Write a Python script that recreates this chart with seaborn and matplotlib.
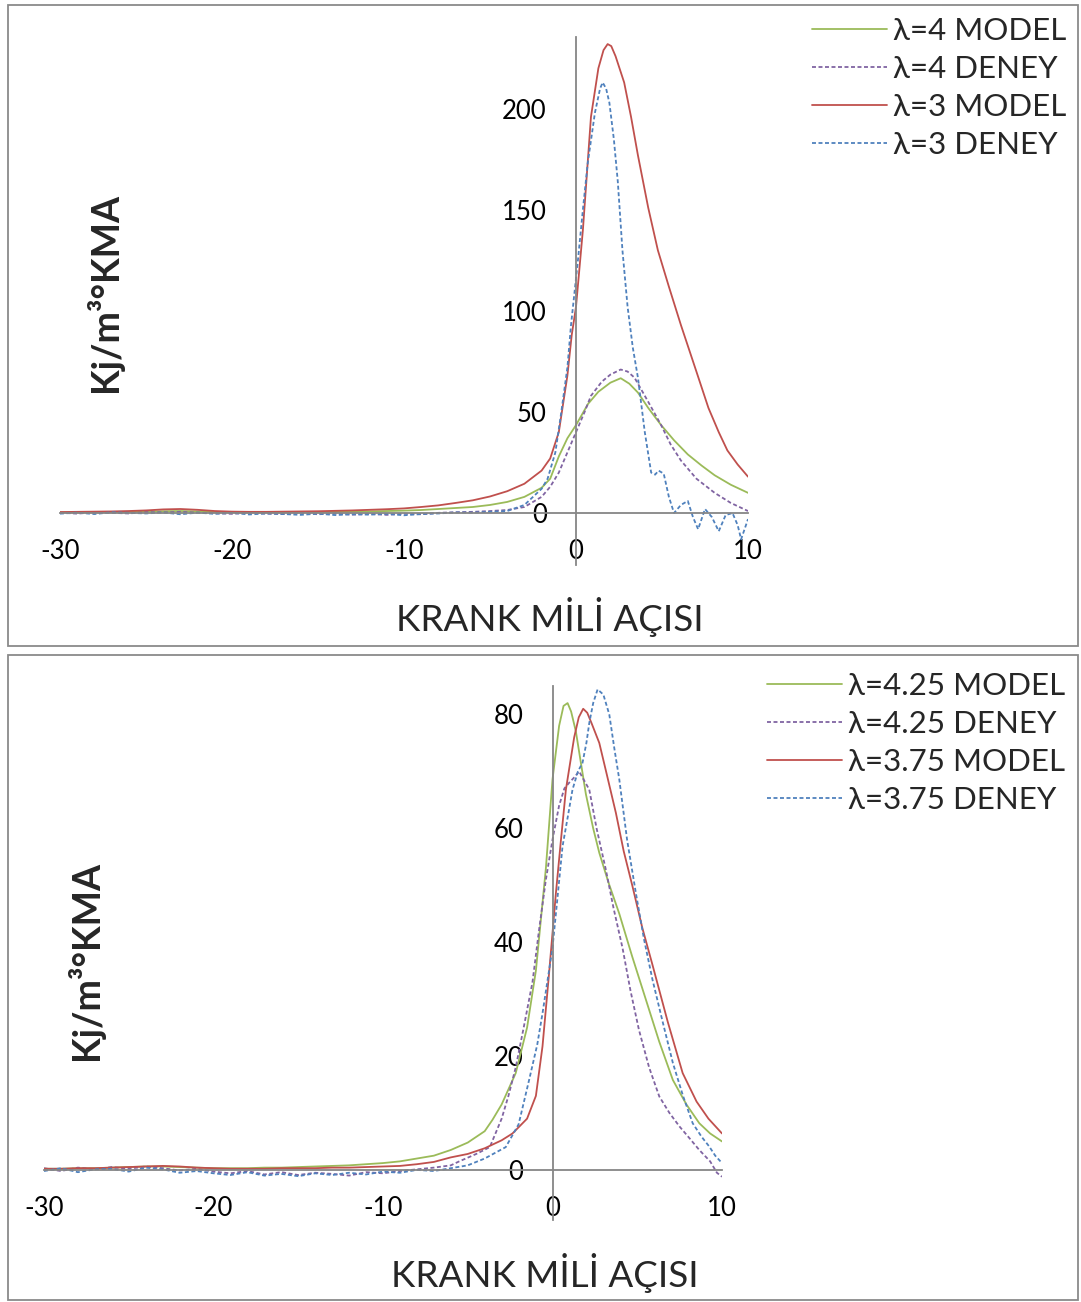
import matplotlib
matplotlib.use("Agg")
import matplotlib.pyplot as plt
import seaborn as sns
import pandas as pd
from matplotlib.patches import Rectangle

sns.set_theme(style="white")
plt.rcParams["font.family"] = ["Lato", "DejaVu Sans"]
plt.rcParams["axes.unicode_minus"] = False

# crank angle for the flat part before ignition (-30 .. -7)
tail_x = list(range(-30, -6))

# ---- top panel: lambda 4 / lambda 3 ----
l4_model_x = tail_x + [-6, -5, -4, -3, -2, -1.5, -1, -0.5, 0, 0.7, 1.3, 2, 2.6, 3.1, 3.6,
                       4.2, 4.95, 5.7, 6.5, 7.3, 8.06, 9, 10]
l4_model_y = [0.3, 0.3, 0.4, 0.4, 0.5, 0.7, 0.9, 1.0, 0.8, 0.5, 0.4, 0.3, 0.3, 0.4, 0.4, 0.5,
              0.6, 0.7, 0.8, 1.0, 1.2, 1.5, 2.0, 2.5,
              3, 4, 5.5, 8, 12.5, 17, 28, 37, 43.5, 54, 60, 64.5, 66.7, 64, 59.6,
              52, 43.5, 36, 29, 23.5, 18.7, 14, 10]

l4_deney_x = tail_x + [-6, -5, -4, -3, -2, -1.5, -1, -0.5, 0, 0.5, 0.87, 1.5, 2, 2.6, 3,
                       3.4, 4.2, 4.95, 5.5, 6.1, 7, 8.06, 9, 9.5, 10]
l4_deney_y = [0.2, -0.3, 0.4, 0.1, -0.2, 0.5, 0.3, 0.6, 0.2, -0.1, -0.4, 0.2, -0.3, -0.5, 0.1,
              -0.6, -0.2, -0.8, -0.4, -0.9, -0.3, -0.6, 0.1, 0.4,
              0.6, 1.0, 1.5, 3, 8, 13, 20, 30, 40, 50, 58, 65, 68.5, 71, 70,
              67, 55, 43.5, 34, 26, 17, 10, 5, 3, 1]

l3_model_x = tail_x + [-6, -5, -4, -3, -2, -1.5, -1, -0.5, -0.25, 0, 0.4, 0.87, 1.3, 1.6,
                       1.84, 2.05, 2.3, 2.8, 3.2, 3.6, 4.2, 4.76, 5.4, 6.1, 7, 7.7, 8.3,
                       8.8, 9.4, 10]
l3_model_y = [0.5, 0.6, 0.7, 0.8, 1.0, 1.3, 1.8, 2.0, 1.6, 1.0, 0.7, 0.6, 0.6, 0.7, 0.8, 0.9,
              1.1, 1.3, 1.6, 1.9, 2.3, 3.0, 3.8, 5.0,
              6.3, 8.2, 10.8, 14.5, 21, 27, 40, 68, 88, 102, 140, 196, 220, 229,
              232, 231, 226, 213, 196, 177, 151, 130, 112, 93, 70, 52, 40, 31, 24, 18]

l3_deney_x = tail_x + [-6, -5, -4, -3, -2, -1.65, -1.2, -0.87, -0.5, -0.29, 0.1, 0.4, 0.68,
                       1.1, 1.4, 1.55, 1.75, 1.94, 2.2, 2.43, 2.7, 3, 3.3, 3.6, 4, 4.37,
                       4.6, 4.8, 5.1, 5.4, 5.7, 6.1, 6.5, 6.8, 7.1, 7.5, 7.9, 8.3, 8.7,
                       9.1, 9.4, 9.6, 10]
l3_deney_y = [-0.3, 0.2, -0.5, 0.4, 0.1, -0.2, 0.3, -0.6, 0.2, -0.4, 0.1, -0.7, -0.2, -0.5,
              -0.9, -0.3, -1.0, -0.6, -0.8, -0.4, -1.1, -0.5, -0.2, 0.3,
              0.2, 0.6, 1, 4, 12, 17, 30, 49, 72, 93, 124, 150, 173, 198, 210, 213,
              210, 203, 185, 164, 130, 102, 82, 67, 40, 20, 19, 21, 19.5, 8, 0, 4, 6,
              -2, -8, 2, -2, -9, -1, 0, -6, -13, -3]

# ---- bottom panel: lambda 4.25 / lambda 3.75 ----
l425_model_x = tail_x + [-6, -5, -4, -3.54, -3, -2.17, -1.5, -0.98, -0.39, 0, 0.39, 0.65,
                         0.89, 1.1, 1.38, 1.97, 2.4, 2.76, 3.3, 3.94, 4.7, 5.5, 6.3, 7.1,
                         7.9, 8.66, 9.3, 10]
l425_model_y = [0.2, 0.2, 0.3, 0.3, 0.4, 0.5, 0.6, 0.6, 0.5, 0.4, 0.3, 0.3, 0.3, 0.4, 0.4,
                0.5, 0.6, 0.7, 0.8, 1.0, 1.2, 1.5, 2.0, 2.5,
                3.5, 4.8, 6.8, 8.8, 11.5, 17, 25, 35, 53, 68.6, 78, 81.5, 82, 80.5, 77,
                66, 60, 55.7, 50.5, 45, 37.5, 30, 22.5, 15.8, 11.5, 8.2, 6.4, 5]

l425_deney_x = tail_x + [-6, -5.5, -4.5, -3.7, -3, -2.6, -2.17, -1.7, -1.18, -0.8, -0.39,
                         0, 0.39, 0.7, 0.98, 1.3, 1.57, 1.85, 2.17, 2.6, 3.15, 3.6, 4.13,
                         4.6, 5.1, 5.7, 6.3, 6.9, 7.5, 8.1, 8.66, 9.3, 9.7, 10]
l425_deney_y = [0.3, -0.2, 0.4, 0.1, 0.5, 0.2, 0.6, 0.3, -0.1, 0.2, -0.3, -0.6, -0.2, -0.8,
                -0.4, -0.9, -0.5, -0.7, -1.0, -0.4, -0.6, -0.2, 0.1, 0.4,
                0.8, 1.5, 2.8, 4, 9, 13, 18, 25, 33, 42, 51, 58, 64, 67, 68, 69, 70,
                68.5, 66.8, 60, 52.7, 46, 39, 31.5, 24.6, 18, 12.9, 10, 7.6, 5.5, 3.5,
                1.5, -0.5, -1.2]

l375_model_x = tail_x + [-6, -5, -4, -3, -2.36, -1.5, -0.98, -0.59, -0.2, 0.2, 0.5, 0.79,
                         1.28, 1.55, 1.81, 2.05, 2.3, 2.76, 3.2, 3.74, 4.2, 4.72, 5.3, 5.9,
                         6.8, 7.68, 8.5, 9.2, 10]
l375_model_y = [0.2, 0.2, 0.3, 0.3, 0.4, 0.5, 0.6, 0.7, 0.6, 0.4, 0.3, 0.2, 0.2, 0.2, 0.3,
                0.3, 0.3, 0.4, 0.4, 0.5, 0.6, 0.7, 1.0, 1.4,
                2.2, 2.8, 3.8, 5.2, 6.4, 9, 13, 21.7, 34.6, 48.6, 58, 66.8, 76, 79.5,
                81, 80.3, 78.5, 75, 69.5, 62.7, 56, 49.8, 42.5, 36, 26, 17, 12, 9, 6.4]

l375_deney_x = tail_x + [-6, -5, -4, -2.76, -2, -1.38, -0.9, -0.59, 0, 0.3, 0.59, 0.9,
                         1.18, 1.5, 1.77, 2, 2.17, 2.4, 2.66, 3, 3.35, 3.65, 3.94, 4.4,
                         4.92, 5.4, 5.9, 6.5, 7.1, 7.7, 8.27, 8.8, 9.25, 9.6, 10]
l375_deney_y = [-0.2, 0.3, -0.4, 0.1, 0.2, -0.3, 0.4, 0.1, -0.5, -0.2, -0.6, -0.9, -0.4,
                -1.0, -0.7, -1.1, -0.6, -0.9, -0.5, -0.8, -0.3, -0.5, 0.0, -0.2,
                0.3, 0.8, 2, 4, 8, 15.8, 22, 27.5, 39, 48, 56.8, 62, 66.8, 70, 71.5,
                75, 78.5, 82, 84.4, 83.5, 80, 74, 68.6, 58, 48.6, 40.5, 33.4, 26,
                18.8, 13, 8.2, 5.8, 4.1, 2.5, 1.2]

GREEN = "#9BBB59"
PURPLE = "#8064A2"
RED = "#C0504D"
BLUE = "#4F81BD"
AXIS_GREY = "#868686"

W, H = 1081, 1302
fig = plt.figure(figsize=(W / 100, H / 100), dpi=100)


def px_box(x0, y0, x1, y1):
    # pixel box (top-left origin) -> figure fraction [left, bottom, w, h]
    return [x0 / W, 1 - y1 / H, (x1 - x0) / W, (y1 - y0) / H]


# panel frames
for (x0, y0, x1, y1) in [(8, 5, 1078, 646), (8, 655, 1078, 1300)]:
    b = px_box(x0, y0, x1, y1)
    fig.add_artist(Rectangle((b[0], b[1]), b[2], b[3], transform=fig.transFigure,
                             fill=False, edgecolor="#8a8a8a", linewidth=1.3))


def draw_panel(ax, series, xlim, ylim, yticks):
    for x, y, color, dashed, label in series:
        df = pd.DataFrame({"aci": x, "deger": y})
        kw = dict(linestyle=(0, (2.2, 1.4))) if dashed else {}
        sns.lineplot(data=df, x="aci", y="deger", ax=ax, color=color, linewidth=1.3,
                     sort=False, estimator=None, label=label, **kw)
    ax.set_xlim(*xlim)
    ax.set_ylim(*ylim)
    ax.set_xlabel("")
    ax.set_ylabel("")
    ax.spines["left"].set_position(("data", 0))
    ax.spines["bottom"].set_position(("data", 0))
    ax.spines[["top", "right"]].set_visible(False)
    for s in ["left", "bottom"]:
        ax.spines[s].set_color(AXIS_GREY)
        ax.spines[s].set_linewidth(1.3)
    ax.set_xticks([-30, -20, -10, 0, 10])
    ax.set_yticks(yticks)
    ax.tick_params(axis="both", direction="out", length=7, width=1.3, color=AXIS_GREY,
                   labelsize=18.5, labelcolor="black")
    ax.tick_params(axis="x", pad=12)
    ax.tick_params(axis="y", pad=14)
    ax.patch.set_alpha(0)
    ax.get_legend().remove()


ax1 = fig.add_axes(px_box(60, 37, 748, 565))
top_series = [
    (l4_model_x, l4_model_y, GREEN, False, "λ=4 MODEL"),
    (l4_deney_x, l4_deney_y, PURPLE, True, "λ=4 DENEY"),
    (l3_model_x, l3_model_y, RED, False, "λ=3 MODEL"),
    (l3_deney_x, l3_deney_y, BLUE, True, "λ=3 DENEY"),
]
draw_panel(ax1, top_series, (-30, 10), (-25.7, 235.5), [0, 50, 100, 150, 200])

ax2 = fig.add_axes(px_box(44, 686, 722, 1220))
bottom_series = [
    (l425_model_x, l425_model_y, GREEN, False, "λ=4.25 MODEL"),
    (l425_deney_x, l425_deney_y, PURPLE, True, "λ=4.25 DENEY"),
    (l375_model_x, l375_model_y, RED, False, "λ=3.75 MODEL"),
    (l375_deney_x, l375_deney_y, BLUE, True, "λ=3.75 DENEY"),
]
draw_panel(ax2, bottom_series, (-30, 10), (-8.8, 85), [0, 20, 40, 60, 80])

for ax, (lx, ly) in [(ax1, (812, 17)), (ax2, (767, 672))]:
    h, l = ax.get_legend_handles_labels()
    ax.legend(h, l, loc="upper left", bbox_to_anchor=(lx / W, 1 - ly / H),
              bbox_transform=fig.transFigure, frameon=False, borderpad=0,
              borderaxespad=0, fontsize=22.5, handlelength=2.4, handletextpad=0.2,
              labelspacing=0.32)

fig.text(550 / W, 1 - 617 / H, "KRANK MİLİ AÇISI", ha="center", va="center", fontsize=26.5)
fig.text(545 / W, 1 - 1273 / H, "KRANK MİLİ AÇISI", ha="center", va="center", fontsize=26.5)
fig.text(104 / W, 1 - 292 / H, "Kj/m³°KMA", ha="center", va="center", rotation=90,
         fontsize=27, fontweight="bold")
fig.text(85 / W, 1 - 960 / H, "Kj/m³°KMA", ha="center", va="center", rotation=90,
         fontsize=27, fontweight="bold")

fig.savefig("out.png", dpi=100)
